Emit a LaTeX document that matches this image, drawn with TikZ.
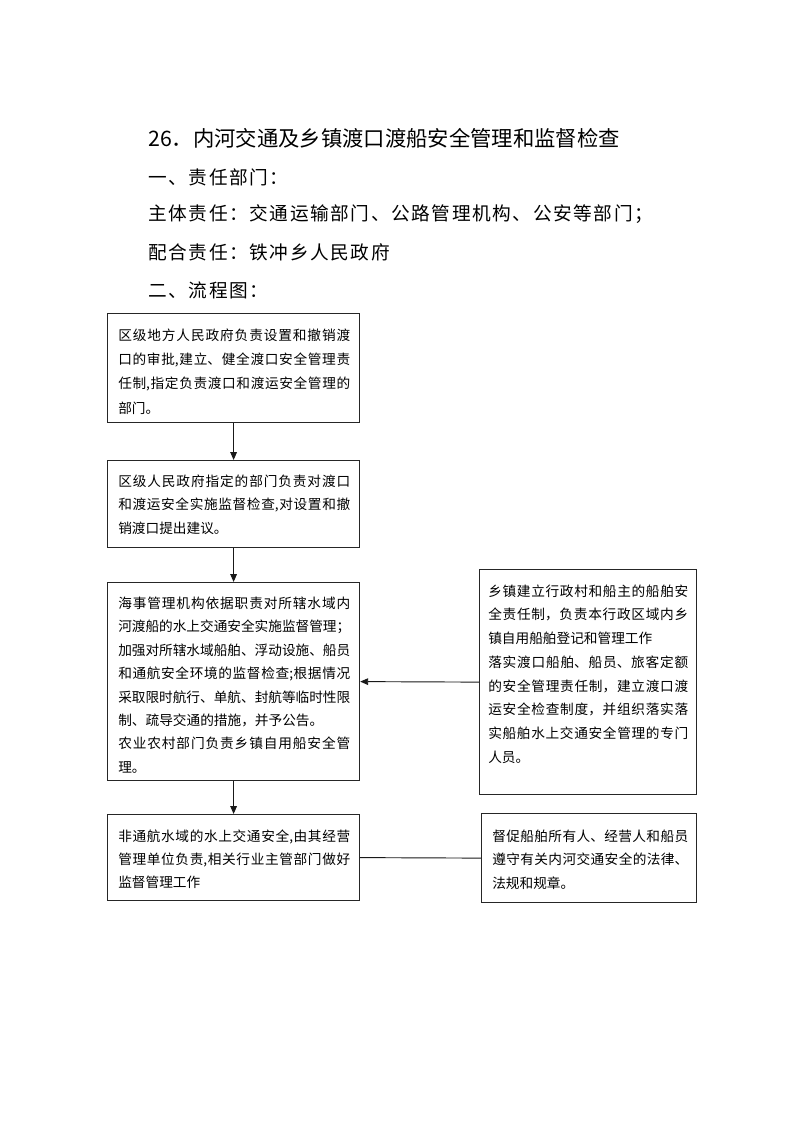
\documentclass[tikz,border=0pt]{standalone}
\usepackage{fontspec}
\setmainfont{Noto Sans CJK SC}
\newfontfamily\headfont[LetterSpace=8.5]{Noto Sans CJK SC}
\XeTeXlinebreaklocale "zh"
\XeTeXlinebreakskip=0pt plus 3pt minus 0.3pt
\usetikzlibrary{arrows.meta}
\tikzset{
  box/.style={draw=black!85, line width=0.9pt, rectangle, inner sep=0pt, anchor=north west},
  boxtext/.style={anchor=west, align=justify, inner sep=0pt, font=\fontsize{10.25}{#1}\selectfont},
  boxtext/.default={17.6},
  head/.style={anchor=west, inner sep=0pt, font=\headfont\fontsize{14}{18}\selectfont},
  titletext/.style={anchor=west, inner sep=0pt, font=\fontsize{16}{20}\selectfont},
  flow/.style={line width=0.7pt, black!90, -{Triangle[length=6pt,width=5pt]}},
  link/.style={line width=0.7pt, black!90}
}
\begin{document}
\begin{tikzpicture}[x=0.75pt,y=-0.75pt]
\fill[white] (0,0) rectangle (793,1122);
\useasboundingbox (0,0) rectangle (793,1122);

% headings
\node[titletext] (title) at (148,138) {26．内河交通及乡镇渡口渡船安全管理和监督检查};
\node[head] (h1) at (148,177) {一、责任部门：};
\node[head] (h2) at (148,214) {主体责任：交通运输部门、公路管理机构、公安等部门；};
\node[head] (h3) at (148,252) {配合责任：铁冲乡人民政府};
\node[head] (h4) at (148,290) {二、流程图：};

% boxes
\node[box, minimum width=252*0.75pt, minimum height=109*0.75pt] (b1) at (107,313) {};
\node[box, minimum width=252*0.75pt, minimum height=87*0.75pt] (b2) at (107,460) {};
\node[box, minimum width=252*0.75pt, minimum height=198*0.75pt] (b3) at (107,582) {};
\node[box, minimum width=217*0.75pt, minimum height=225*0.75pt] (b4) at (479,569) {};
\node[box, minimum width=252*0.75pt, minimum height=86*0.75pt] (b5) at (107,814) {};
\node[box, minimum width=215*0.75pt, minimum height=89*0.75pt] (b6) at (481,813) {};

% texts
\node[boxtext=18.2, text width=174pt] (t1) at (118,371.5) {区级地方人民政府负责设置和撤销渡\linebreak 口的审批,建立、健全渡口安全管理责\linebreak 任制,指定负责渡口和渡运安全管理的\linebreak 部门。};
\node[boxtext=17.6, text width=174pt] (t2) at (118,504.5) {区级人民政府指定的部门负责对渡口\linebreak 和渡运安全实施监督检查,对设置和撤\linebreak 销渡口提出建议。};
\node[boxtext=17.55, text width=174pt] (t3) at (118,685) {海事管理机构依据职责对所辖水域内\linebreak 河渡船的水上交通安全实施监督管理；\par 加强对所辖水域船舶、浮动设施、船员\linebreak 和通航安全环境的监督检查;根据情况\linebreak 采取限时航行、单航、封航等临时性限\linebreak 制、疏导交通的措施，并予公告。\par 农业农村部门负责乡镇自用船安全管\linebreak 理。};
\node[boxtext=17.8, text width=150pt] (t4) at (488,674) {乡镇建立行政村和船主的船舶安\linebreak 全责任制，负责本行政区域内乡\linebreak 镇自用船舶登记和管理工作\par 落实渡口船舶、船员、旅客定额\linebreak 的安全管理责任制，建立渡口渡\linebreak 运安全检查制度，并组织落实落\linebreak 实船舶水上交通安全管理的专门\linebreak 人员。};
\node[boxtext=17.25, text width=174pt] (t5) at (118,859) {非通航水域的水上交通安全,由其经营\linebreak 管理单位负责,相关行业主管部门做好\linebreak 监督管理工作};
\node[boxtext=17.6, text width=147pt] (t6) at (492,859.5) {督促船舶所有人、经营人和船员\linebreak 遵守有关内河交通安全的法律、\linebreak 法规和规章。};

% connectors
\draw[flow] (b1.south) -- (b2.north);
\draw[flow] (b2.south) -- (b3.north);
\draw[flow] (b4.west) -- (b3.east);
\draw[flow] (b3.south) -- (b5.north);
\draw[link] (b5.east) -- (b6.west);
\end{tikzpicture}
\end{document}
